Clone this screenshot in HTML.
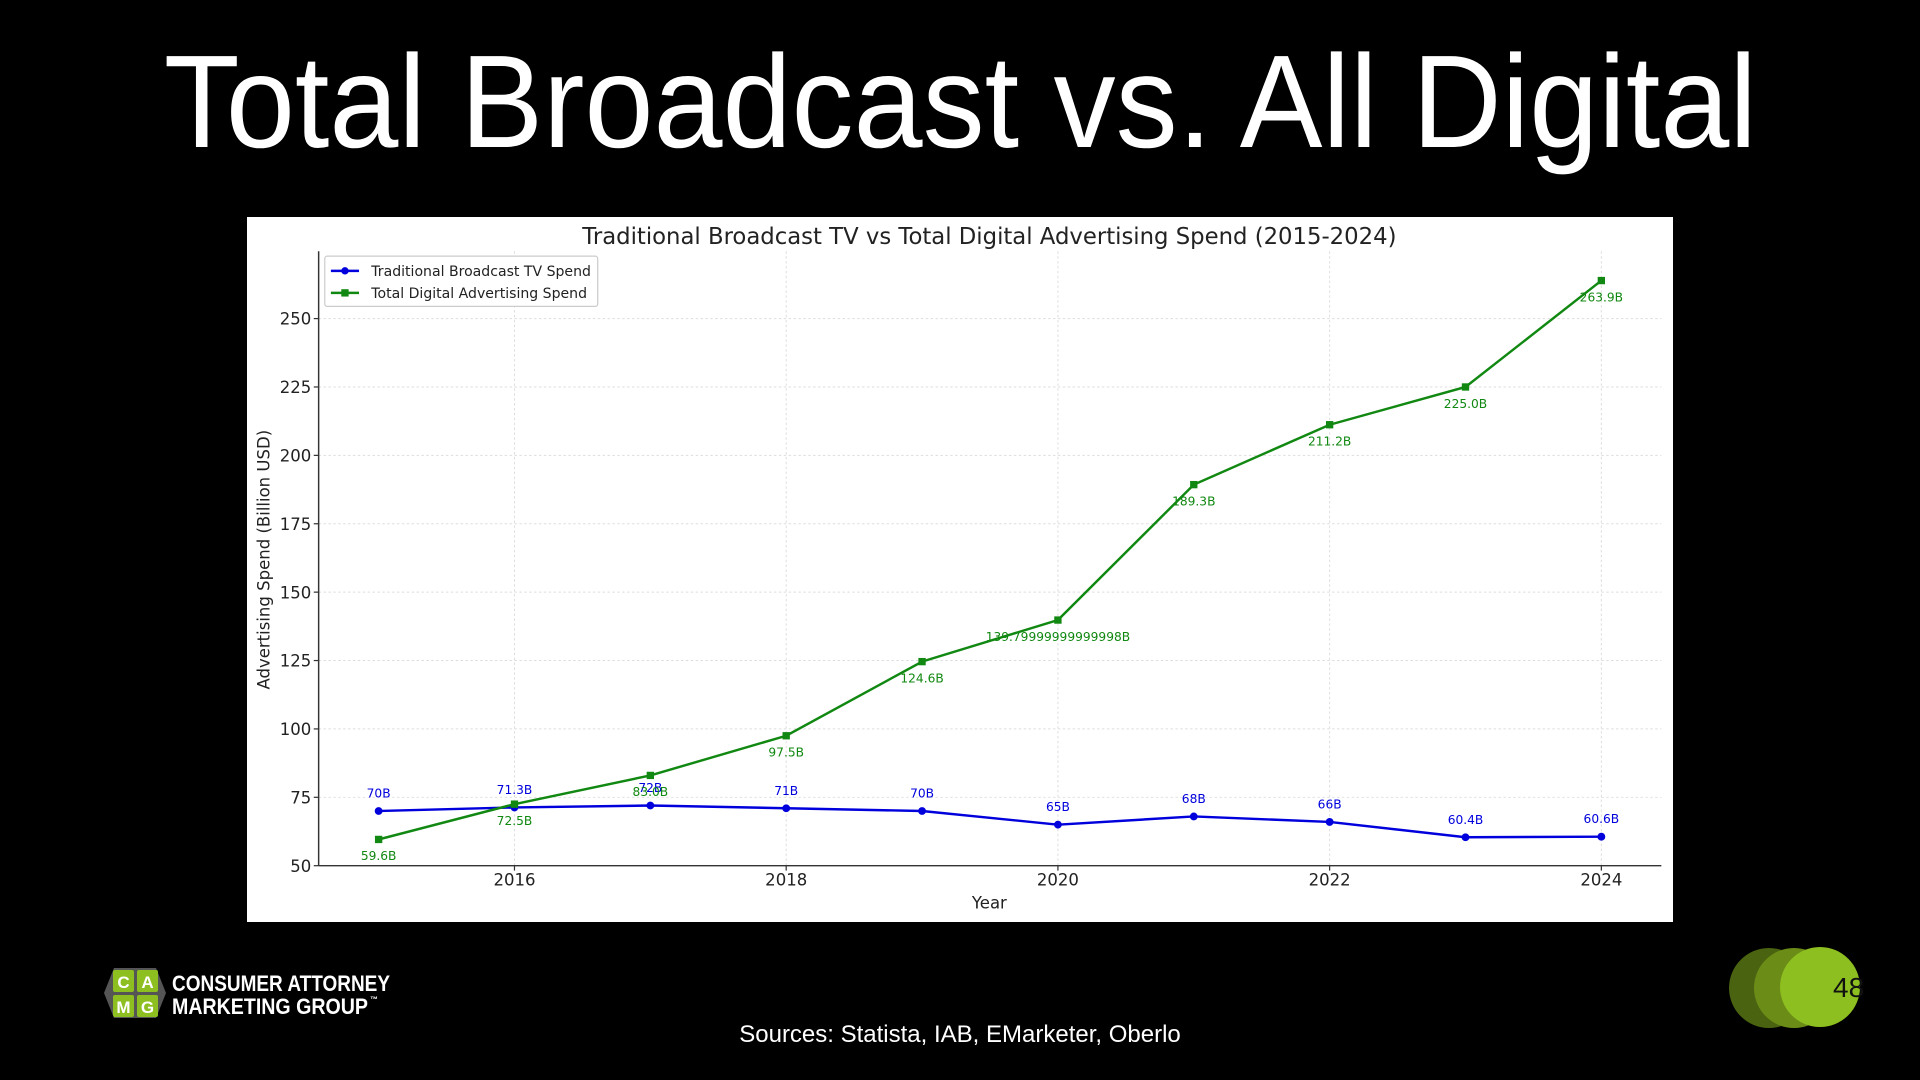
<!DOCTYPE html>
<html><head><meta charset="utf-8"><style>
html,body{margin:0;padding:0;background:#000;width:1920px;height:1080px;overflow:hidden;position:relative;font-family:"Liberation Sans",sans-serif}
#title{position:absolute;left:0;width:1920px;top:32px;text-align:center;color:#fff;font-size:132px;line-height:140px;white-space:nowrap}
#title span{display:inline-block;transform:scaleX(0.94)}
#chart{position:absolute;left:247px;top:217px;width:1426px;height:705px;background:#fff}
#sources{position:absolute;left:0;width:1920px;top:1021px;text-align:center;color:#fff;font-size:24px}
#pagenum{position:absolute;left:1833px;top:972px;font-size:28px;color:#111}
</style></head><body>
<div id="title"><span>Total Broadcast vs. All Digital</span></div>
<svg id="chart" viewBox="202 177 1164 576" width="1426" height="705" xmlns="http://www.w3.org/2000/svg" font-family="DejaVu Sans, sans-serif">
<rect x="202" y="177" width="1164" height="576" fill="#fff"/>
<g id="grid"></g><g id="axes"></g><g id="series"></g>
<text x="808" y="199" text-anchor="middle" font-size="18.6" fill="#222">Traditional Broadcast TV vs Total Digital Advertising Spend (2015-2024)</text>
<text x="808" y="742" text-anchor="middle" font-size="13.5" fill="#222">Year</text>
<text transform="translate(220,457) rotate(-90)" text-anchor="middle" font-size="13.5" fill="#222">Advertising Spend (Billion USD)</text>
<g>
<rect x="265" y="209" width="223" height="41" fill="#fff" stroke="#ccc" stroke-width="1" rx="2"/>
<line x1="270" y1="221" x2="293" y2="221" stroke="#0000dd" stroke-width="2"/><circle cx="281.5" cy="221" r="3" fill="#0000dd"/>
<text x="303" y="225" font-size="11.5" fill="#222">Traditional Broadcast TV Spend</text>
<line x1="270" y1="239" x2="293" y2="239" stroke="#118811" stroke-width="2"/><rect x="278.5" y="236" width="6" height="6" fill="#118811"/>
<text x="303" y="243" font-size="11.5" fill="#222">Total Digital Advertising Spend</text>
</g>
</svg>
<svg style="position:absolute;left:104px;top:964px" width="300" height="60">
<polygon points="0,29 10,4 52,4 62,29 52,54 10,54" fill="#555"/>
<rect x="9" y="6" width="21" height="22" fill="#8cbf1f" rx="2"/><rect x="33" y="6" width="21" height="22" fill="#8cbf1f" rx="2"/>
<rect x="9" y="31" width="21" height="22" fill="#8cbf1f" rx="2"/><rect x="33" y="31" width="21" height="22" fill="#8cbf1f" rx="2"/>
<g font-family="Liberation Sans, sans-serif" font-weight="bold" font-size="17" fill="#fff" text-anchor="middle">
<text x="19.5" y="24">C</text><text x="43.5" y="24">A</text><text x="19.5" y="49">M</text><text x="43.5" y="49">G</text></g>
<g font-family="Liberation Sans, sans-serif" font-weight="bold" font-size="22" fill="#fff">
<text x="68" y="27" textLength="218" lengthAdjust="spacingAndGlyphs">CONSUMER ATTORNEY</text>
<text x="68" y="50" textLength="196" lengthAdjust="spacingAndGlyphs">MARKETING GROUP</text>
<text x="266" y="38" font-size="8">™</text></g>
</svg>
<svg style="position:absolute;left:1700px;top:930px" width="200" height="120">
<circle cx="69" cy="58" r="40" fill="#4a6310"/><circle cx="94" cy="58" r="40" fill="#6b8c17"/><circle cx="120" cy="57" r="40" fill="#8cbf1f"/>
</svg>
<div id="pagenum">48</div>
<div id="sources">Sources: Statista, IAB, EMarketer, Oberlo</div>
<script>
const years=[2015,2016,2017,2018,2019,2020,2021,2022,2023,2024];
const tvValues=[70,71.3,72,71,70,65,68,66,60.4,60.6];
const tvLabels=["70B","71.3B","72B","71B","70B","65B","68B","66B","60.4B","60.6B"];
const digitalValues=[59.6,72.5,83.0,97.5,124.6,139.8,189.3,211.2,225.0,263.9];
const digitalLabels=["59.6B","72.5B","83.0B","97.5B","124.6B","139.79999999999998B","189.3B","211.2B","225.0B","263.9B"];
const yTicks=[50,75,100,125,150,175,200,225,250];
const xTicks=[2016,2018,2020,2022,2024];
const NS="http://www.w3.org/2000/svg";
const X0=260,X1=1357,Y0=707,Y1=205;
function xs(v){return 309+(v-2015)*(1308-309)/9;}
function ys(v){return 707-(v-50)*(707-260)/200;}
function mk(t,a,p){const e=document.createElementNS(NS,t);for(const k in a)e.setAttribute(k,a[k]);p.appendChild(e);return e;}
const grid=document.getElementById('grid'),axes=document.getElementById('axes'),ser=document.getElementById('series');
yTicks.forEach(v=>{
  const l=mk('line',{x1:X0,x2:X1,y1:ys(v),y2:ys(v),stroke:'#ddd','stroke-dasharray':'2,2','stroke-width':0.8},grid);
  
  
  mk('line',{x1:X0-4,x2:X0,y1:ys(v),y2:ys(v),stroke:'#333'},axes);
  const t=mk('text',{x:X0-6,y:ys(v)+5,'text-anchor':'end','font-size':13.5,fill:'#222'},axes);
  t.textContent=v;
  
  
});
xTicks.forEach(v=>{
  const l=mk('line',{x1:xs(v),x2:xs(v),y1:Y1,y2:Y0,stroke:'#ddd','stroke-dasharray':'2,2','stroke-width':0.8},grid);
  
  
  mk('line',{x1:xs(v),x2:xs(v),y1:Y0,y2:Y0+4,stroke:'#333'},axes);
  const t=mk('text',{x:xs(v),y:Y0+16,'text-anchor':'middle','font-size':13.5,fill:'#222'},axes);
  t.textContent=v;
  
  
});
mk('line',{x1:X0,x2:X0,y1:Y1,y2:Y0,stroke:'#333','stroke-width':1.2},axes);
mk('line',{x1:X0,x2:X1,y1:Y0,y2:Y0,stroke:'#333','stroke-width':1.2},axes);
function series(vals,labels,color,square,dy,name){
  const pl=mk('polyline',{points:vals.map((v,i)=>xs(years[i])+','+ys(v)).join(' '),fill:'none',stroke:color,'stroke-width':2},ser);
  
  
  vals.forEach((v,i)=>{
    const x=xs(years[i]),y=ys(v);
    const m=square?mk('rect',{x:x-3,y:y-3,width:6,height:6,fill:color},ser):mk('circle',{cx:x,cy:y,r:3.2,fill:color},ser);
    
    
    const t=mk('text',{x:x,y:y+dy,'text-anchor':'middle','font-size':10,fill:color},ser);
    t.textContent=labels[i];
    
    
  });
}
series(tvValues,tvLabels,'#0000dd',false,-11,'tv-spend');
series(digitalValues,digitalLabels,'#118811',true,17,'digital-spend');
</script>
</body></html>
